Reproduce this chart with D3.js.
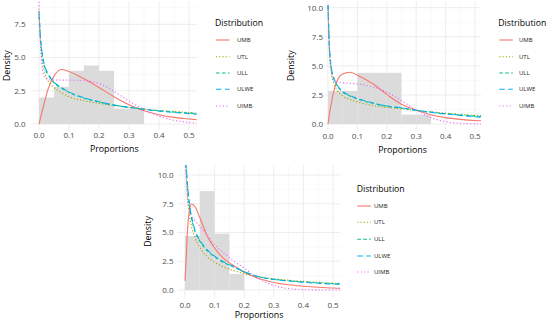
<!DOCTYPE html>
<html>
<head>
<meta charset="utf-8">
<script src="https://cdn.jsdelivr.net/npm/d3@7/dist/d3.min.js"></script>
<style>
  body { margin: 0; background: #fff; }
  svg text { font-family: "Open Sans", "Noto Sans", sans-serif; }
</style>
</head>
<body>
<div id="chart"></div>
<script>
// Density fits over proportion histograms (three samples)

const distributions = ['UMB', 'UTL', 'ULL', 'ULWE', 'UIMB']
const colors = ['#F8766D', '#A3A500', '#00BF7D', '#00B0F6', '#E76BF3']
const dashes = [null, '1.2,2', '3.5,2.5', '5.5,3.5', '1.2,2.2']

const xTicks = [0, 0.1, 0.2, 0.3, 0.4, 0.5]
const yTicks1 = [0, 2.5, 5, 7.5]
const yTicks2 = [0, 2.5, 5, 7.5, 10]

// histogram bins (width 0.05)
const binEdges = [0, 0.05, 0.1, 0.15, 0.2, 0.25, 0.3, 0.35]
const hist1 = [2.0, 2.8, 4.0, 4.4, 4.0, 1.15, 1.15]
const hist2 = [2.85, 2.85, 4.4, 4.4, 4.4, 0.8, 0.8]
const hist3 = [4.7, 8.6, 4.9, 1.4]

// x positions where the curves were read
const gridX = [0, 0.005, 0.01, 0.02, 0.03, 0.05, 0.075, 0.1, 0.15, 0.2, 0.25, 0.3, 0.35, 0.4, 0.45, 0.5, 0.525]
const gridX3 = [0, 0.003, 0.008, 0.015, 0.022, 0.035, 0.05, 0.075, 0.1, 0.13, 0.16, 0.2, 0.25, 0.3, 0.35, 0.4, 0.45, 0.5, 0.525]

// panel 1
const umb1 = [0, 0.45, 0.9, 1.8, 2.6, 3.6, 4.1, 3.95, 3.4, 2.75, 2.05, 1.45, 1.0, 0.7, 0.5, 0.38, 0.33]
const utl1 = [8.0, 6.0, 4.9, 3.8, 3.25, 2.75, 2.35, 2.05, 1.75, 1.55, 1.38, 1.24, 1.12, 1.02, 0.94, 0.86, 0.82]
const ull1 = [8.5, 6.4, 5.3, 4.2, 3.72, 3.1, 2.7, 2.38, 1.95, 1.66, 1.42, 1.26, 1.12, 1.0, 0.9, 0.82, 0.78]
const ulwe1 = [8.3, 6.5, 5.4, 4.3, 3.8, 3.15, 2.75, 2.42, 1.97, 1.68, 1.42, 1.25, 1.1, 0.97, 0.87, 0.78, 0.74]
const uimb1 = [9.2, 6.0, 4.3, 3.45, 3.35, 3.3, 3.3, 3.3, 3.25, 3.05, 2.45, 1.72, 1.1, 0.6, 0.28, 0.12, 0.08]

// panel 2
const umb2 = [0, 0.9, 1.6, 2.85, 3.65, 4.3, 4.45, 4.2, 3.5, 2.55, 1.7, 1.2, 0.8, 0.55, 0.4, 0.3, 0.27]
const utl2 = [10.2, 6.0, 4.6, 3.5, 2.95, 2.4, 2.1, 1.9, 1.6, 1.42, 1.3, 1.16, 1.04, 0.93, 0.83, 0.74, 0.7]
const ull2 = [10.2, 6.5, 5.0, 3.9, 3.35, 2.75, 2.4, 2.15, 1.8, 1.53, 1.37, 1.18, 1.02, 0.89, 0.78, 0.68, 0.64]
const ulwe2 = [10.2, 6.6, 5.1, 3.95, 3.4, 2.8, 2.45, 2.2, 1.83, 1.55, 1.4, 1.18, 1.0, 0.86, 0.74, 0.63, 0.58]
const uimb2 = [10.2, 6.5, 4.8, 3.8, 3.6, 3.55, 3.5, 3.45, 3.2, 2.75, 2.0, 1.2, 0.55, 0.2, 0.06, 0.02, 0.01]

// panel 3
const umb3 = [0.8, 2.2, 5.0, 6.9, 7.48, 7.2, 6.3, 4.7, 3.65, 2.75, 2.2, 1.55, 1.0, 0.65, 0.45, 0.33, 0.24, 0.17, 0.15]
const utl3 = [11, 10.3, 8.3, 6.5, 5.5, 4.5, 3.7, 2.9, 2.4, 2.0, 1.72, 1.42, 1.15, 0.97, 0.85, 0.75, 0.67, 0.6, 0.57]
const ull3 = [11, 10.8, 9.1, 7.3, 6.25, 5.0, 4.25, 3.42, 2.9, 2.4, 2.05, 1.58, 1.15, 0.93, 0.8, 0.7, 0.62, 0.55, 0.52]
const ulwe3 = [11, 10.9, 9.3, 7.5, 6.4, 5.1, 4.35, 3.5, 2.95, 2.45, 2.1, 1.6, 1.15, 0.92, 0.78, 0.67, 0.59, 0.52, 0.49]
const uimb3 = [11, 10.4, 8.0, 6.9, 6.5, 6.0, 5.55, 4.75, 3.95, 3.25, 2.6, 1.9, 0.95, 0.4, 0.12, 0.03, 0.01, 0, 0]

// layout of the three panels (pixels)
const panels = [
  { id: 'p1', x0: 39, x5: 189, xl: 31.5, xr: 197, y0: 124, yRef: 7.5, yRefPx: 24.3, yt: 1.5, yb: 130,
    yTicks: yTicks1, yLabRight: 25.5, xLabY: 135, xTitleY: 149, yTitleX: 6.7,
    legX: 215, legY: 23.3, keyX: 216, labX: 237, rowY: [40, 56.7, 73, 89.3, 106],
    hist: hist1, xs: gridX, curves: [umb1, utl1, ull1, ulwe1, uimb1] },
  { id: 'p2', x0: 328, x5: 475, xl: 324, xr: 481, y0: 124, yRef: 10, yRefPx: 7.7, yt: 1.5, yb: 130,
    yTicks: yTicks2, yLabRight: 323, xLabY: 136, xTitleY: 150, yTitleX: 290.7,
    legX: 498.3, legY: 23.3, keyX: 499.3, labX: 519, rowY: [40, 56.7, 73, 89.3, 106],
    hist: hist2, xs: gridX, curves: [umb2, utl2, ull2, ulwe2, uimb2] },
  { id: 'p3', x0: 185, x5: 333, xl: 177.5, xr: 340.5, y0: 290, yRef: 10, yRefPx: 175, yt: 165, yb: 298,
    yTicks: yTicks2, yLabRight: 173.5, xLabY: 305, xTitleY: 315, yTitleX: 148,
    legX: 356.7, legY: 189, keyX: 357.3, labX: 374, rowY: [206, 222.3, 239.3, 256, 272],
    hist: hist3, xs: gridX3, curves: [umb3, utl3, ull3, ulwe3, uimb3] }
]

const svg = d3.select('#chart').append('svg')
  .attr('width', 550)
  .attr('height', 323)

const fmt = d3.format('.1f')

panels.forEach(p => {
  const x = d3.scaleLinear().domain([0, 0.5]).range([p.x0, p.x5])
  const y = d3.scaleLinear().domain([0, p.yRef]).range([p.y0, p.yRefPx])
  const g = svg.append('g')

  // grid
  const yMin = y.invert(p.yb), yMax = y.invert(p.yt)
  const xMin = x.invert(p.xl), xMax = x.invert(p.xr)
  const minorX = d3.range(-0.05, 0.6, 0.1).filter(v => v > xMin && v < xMax)
  const minorY = d3.range(-1.25, 12, 2.5).filter(v => v > yMin && v < yMax)
  g.selectAll('.mx').data(minorX).enter().append('line')
    .attr('x1', d => x(d)).attr('x2', d => x(d)).attr('y1', p.yt).attr('y2', p.yb)
    .attr('stroke', '#F2F2F2').attr('stroke-width', 0.5)
  g.selectAll('.my').data(minorY).enter().append('line')
    .attr('y1', d => y(d)).attr('y2', d => y(d)).attr('x1', p.xl).attr('x2', p.xr)
    .attr('stroke', '#F2F2F2').attr('stroke-width', 0.5)
  g.selectAll('.gx').data(xTicks).enter().append('line')
    .attr('x1', d => x(d)).attr('x2', d => x(d)).attr('y1', p.yt).attr('y2', p.yb)
    .attr('stroke', '#EBEBEB').attr('stroke-width', 0.9)
  g.selectAll('.gy').data(p.yTicks).enter().append('line')
    .attr('y1', d => y(d)).attr('y2', d => y(d)).attr('x1', p.xl).attr('x2', p.xr)
    .attr('stroke', '#EBEBEB').attr('stroke-width', 0.9)

  // histogram
  g.selectAll('.bar').data(p.hist).enter().append('rect')
    .attr('x', (d, i) => x(binEdges[i]))
    .attr('width', (d, i) => x(binEdges[i + 1]) - x(binEdges[i]))
    .attr('y', d => y(d))
    .attr('height', d => y(0) - y(d))
    .attr('fill', '#DBDBDB')

  // curves
  svg.append('clipPath').attr('id', 'clip-' + p.id)
    .append('rect').attr('x', p.xl).attr('y', p.yt)
    .attr('width', p.xr - p.xl).attr('height', p.yb - p.yt)
  const line = d3.line()
    .x(d => x(d[0])).y(d => y(d[1]))
    .curve(d3.curveMonotoneX)
  const cg = g.append('g').attr('clip-path', `url(#clip-${p.id})`)
  p.curves.forEach((vals, k) => {
    cg.append('path')
      .datum(p.xs.map((v, i) => [v, vals[i]]))
      .attr('d', line)
      .attr('fill', 'none')
      .attr('stroke', colors[k])
      .attr('stroke-width', 1.1)
      .attr('stroke-dasharray', dashes[k])
  })

  // tick labels
  g.selectAll('.xl').data(xTicks).enter().append('text')
    .attr('x', d => x(d)).attr('y', p.xLabY).attr('dy', '0.35em')
    .attr('text-anchor', 'middle').attr('font-size', 8).attr('fill', '#4D4D4D')
    .text(fmt)
  g.selectAll('.yl').data(p.yTicks).enter().append('text')
    .attr('x', p.yLabRight).attr('y', d => y(d)).attr('dy', '0.35em')
    .attr('text-anchor', 'end').attr('font-size', 8).attr('fill', '#4D4D4D')
    .text(fmt)

  // axis titles
  g.append('text')
    .attr('x', (p.xl + p.xr) / 2).attr('y', p.xTitleY).attr('dy', '0.35em')
    .attr('text-anchor', 'middle').attr('font-size', 8.8)
    .text('Proportions')
  g.append('text')
    .attr('transform', `translate(${p.yTitleX}, ${(p.yt + p.yb) / 2}) rotate(-90)`)
    .attr('dy', '0.35em')
    .attr('text-anchor', 'middle').attr('font-size', 8.8)
    .text('Density')

  // legend
  const lg = g.append('g')
  lg.append('text')
    .attr('x', p.legX).attr('y', p.legY).attr('dy', '0.35em')
    .attr('font-size', 8.7)
    .text('Distribution')
  distributions.forEach((name, k) => {
    lg.append('line')
      .attr('x1', p.keyX).attr('x2', p.keyX + 13.5)
      .attr('y1', p.rowY[k]).attr('y2', p.rowY[k])
      .attr('stroke', colors[k]).attr('stroke-width', 1.1)
      .attr('stroke-dasharray', dashes[k])
    lg.append('text')
      .attr('x', p.labX).attr('y', p.rowY[k]).attr('dy', '0.35em')
      .attr('font-size', 6).attr('fill', '#1A1A1A')
      .text(name)
  })
})
</script>
</body>
</html>
